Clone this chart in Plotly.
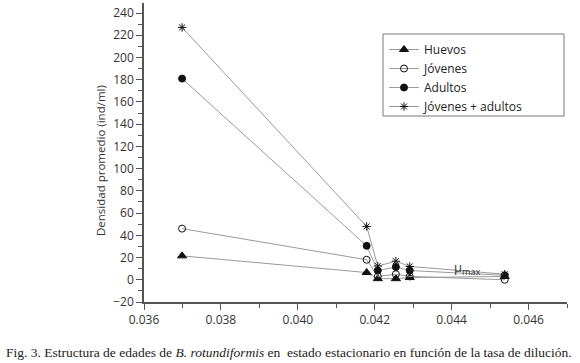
import plotly.graph_objects as go

tasa = [0.03699, 0.04179, 0.04208, 0.04255, 0.04291, 0.04538]
huevos = [21.5, 6.5, 1, 1, 2, 3]
jovenes = [46, 18, 3, 5, 3, 0]
adultos = [181, 30.5, 8.3, 11.5, 8.3, 4]
jov_adu = [227, 48, 12.4, 16.7, 12, 5]

series = [
    ("Huevos", huevos, "triangle-up", 8),
    ("Jóvenes", jovenes, "circle-open", 7),
    ("Adultos", adultos, "circle", 7),
    ("Jóvenes + adultos", jov_adu, "asterisk-open", 7),
]

W, H = 580, 363
L, R, T, B = 144, 13, 3, 61
PW, PH = W - L - R, H - T - B

def px(x):
    return (x - L) / PW

def py(y):
    return 1 - (y - T) / PH

fig = go.Figure()
for name, vals, sym, sz in series:
    fig.add_trace(go.Scatter(
        x=tasa, y=vals, name=name, mode="lines+markers",
        line=dict(color="#9a9a9a", width=1),
        marker=dict(symbol=sym, size=sz, color="#111111",
                    line=dict(color="#111111", width=1)),
    ))

axis_font = dict(family="Open Sans, Noto Sans, sans-serif", size=12, color="#333333")

fig.update_layout(
    width=W, height=H,
    margin=dict(l=L, r=R, t=T, b=B),
    plot_bgcolor="white", paper_bgcolor="white",
    font=axis_font,
    showlegend=True,
    legend=dict(x=px(384), y=py(35), xanchor="left", yanchor="top",
                borderwidth=0, bgcolor="rgba(0,0,0,0)",
                font=dict(family="Open Sans, Noto Sans, sans-serif", size=12, color="#222222"),
                tracegroupgap=0, itemwidth=30),
    xaxis=dict(range=[0.036, 0.047], tickvals=[0.036, 0.038, 0.040, 0.042, 0.044, 0.046],
               ticktext=["0.036", "0.038", "0.040", "0.042", "0.044", "0.046"],
               showgrid=False, zeroline=False, showline=True, linecolor="#555555", linewidth=1.5,
               ticks="outside", ticklen=6, tickcolor="#555555", automargin=False,
               minor=dict(dtick=0.001, ticks="outside", ticklen=4, tickcolor="#555555"),
               tickfont=axis_font),
    yaxis=dict(range=[-20, 249], tickvals=list(range(-20, 241, 20)),
               showgrid=False, zeroline=False, showline=True, linecolor="#555555", linewidth=1.5,
               ticks="outside", ticklen=6, tickcolor="#555555", automargin=False,
               minor=dict(dtick=10, tick0=0, ticks="outside", ticklen=4, tickcolor="#555555"),
               tickfont=axis_font),
)

fig.add_annotation(x=px(100), y=py(161), xref="paper", yref="paper", xanchor="center", yanchor="middle",
                   text="Densidad promedio (ind/ml)", textangle=-90, showarrow=False,
                   font=dict(family="Open Sans, Noto Sans, sans-serif", size=11.5, color="#333333"))

fig.add_shape(type="rect", xref="paper", yref="paper",
              x0=px(383), x1=px(564), y0=py(116), y1=py(34),
              line=dict(color="#777777", width=1), fillcolor="rgba(0,0,0,0)", layer="above")

fig.add_annotation(x=0.0444, y=10.5, xref="x", yref="y", text="μ<sub>max</sub>",
                   showarrow=False, font=dict(family="Open Sans, Noto Sans, sans-serif", size=13, color="#333333"))

fig.add_annotation(x=px(289), y=0, xref="paper", yref="paper", xanchor="center", yanchor="middle",
                   yshift=-50,
                   text="Fig. 3. Estructura de edades de <i>B. rotundiformis</i> en  estado estacionario en función de la tasa de dilución.",
                   showarrow=False,
                   font=dict(family="Liberation Serif, Times New Roman, serif", size=13.5, color="#222222"))

fig.write_html("out.html", config={"displayModeBar": False},
               post_script="document.body.style.margin='0';document.body.style.overflow='hidden';")
